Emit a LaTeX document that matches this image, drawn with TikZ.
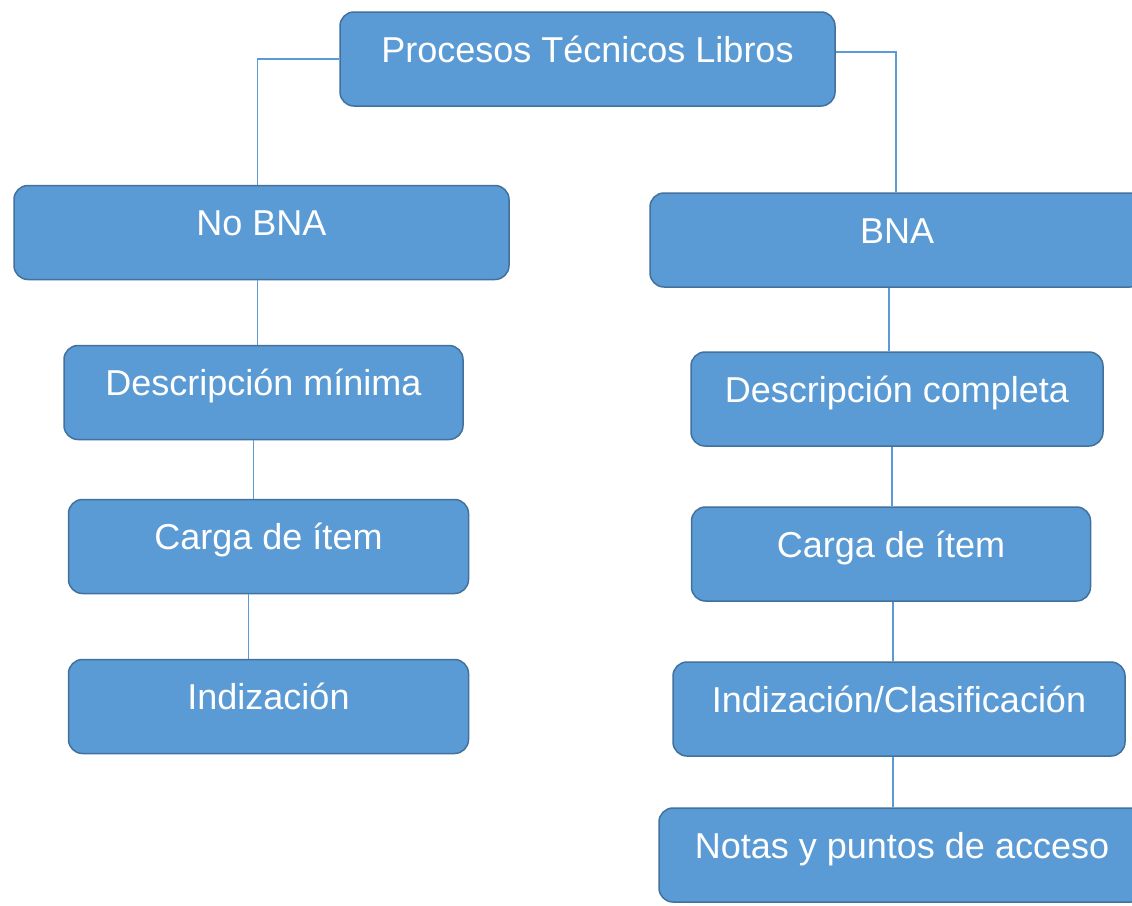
\documentclass[tikz,border=0pt]{standalone}
\usepackage{fontspec}
\setmainfont{Liberation Sans}
\usepackage{xcolor}
\usepackage{tikz}
\usetikzlibrary{positioning}
\definecolor{boxblue}{HTML}{5B9BD5}
\definecolor{boxline}{HTML}{41719C}

\begin{document}
\begin{tikzpicture}[
    x=1pt, y=-1pt,
    node distance=60pt,
    font=\fontsize{36}{40}\selectfont,
    box/.style={rectangle, rounded corners=14pt, draw=boxline, fill=boxblue, line width=1.5pt, text=white, inner xsep=0pt, inner ysep=0pt, text height=50pt, text depth=44pt},
    link/.style={draw=boxblue, line width=1.5pt}
]
    \clip (0,0) rectangle (1132,905);
    \fill[white] (0,0) rectangle (1132,905);

    \node[box, minimum width=495pt] (title) at (587.5,59) {Procesos Técnicos Libros};
    \node[box, minimum width=495pt] (nobna) at (261.5,232.5) {No BNA};
    \node[box, minimum width=494pt] (bna) at (897,240) {BNA};

    % columna izquierda
    \node[box, minimum width=399pt, below=64.5pt of nobna, xshift=2pt] (descmin) {Descripción mínima};
    \node[box, minimum width=400pt, below=58.5pt of descmin, xshift=5pt] (cargaizq) {Carga de ítem};
    \node[box, minimum width=400pt, below=64.5pt of cargaizq] (indizizq) {Indización};

    % columna derecha
    \node[box, minimum width=412pt, below=63.5pt of bna] (desccomp) {Descripción completa};
    \node[box, minimum width=399pt, below=59.5pt of desccomp, xshift=-6pt] (cargader) {Carga de ítem};
    \node[box, minimum width=452pt, below=59.5pt of cargader, xshift=8pt] (indizder) {Indización/Clasificación};
    \node[box, minimum width=486pt, below=50.5pt of indizder, xshift=3pt] (notas) {Notas y puntos de acceso};

    \draw[link] (title.west) -| ([xshift=-4pt]nobna.north);
    \draw[link] ([yshift=7pt]title.east) -| ([xshift=-1pt]bna.north);

    \draw[link] ([xshift=-4pt]nobna.south) -- ([xshift=-4pt]nobna.south |- descmin.north);
    \draw[link] ([xshift=-10pt]descmin.south) -- ([xshift=-10pt]descmin.south |- cargaizq.north);
    \draw[link] ([xshift=-20pt]cargaizq.south) -- ([xshift=-20pt]cargaizq.south |- indizizq.north);

    \draw[link] ([xshift=-8pt]bna.south) -- ([xshift=-8pt]bna.south |- desccomp.north);
    \draw[link] ([xshift=-5pt]desccomp.south) -- ([xshift=-5pt]desccomp.south |- cargader.north);
    \draw[link] ([xshift=2pt]cargader.south) -- ([xshift=2pt]cargader.south |- indizder.north);
    \draw[link] ([xshift=-6pt]indizder.south) -- ([xshift=-6pt]indizder.south |- notas.north);
\end{tikzpicture}
\end{document}
